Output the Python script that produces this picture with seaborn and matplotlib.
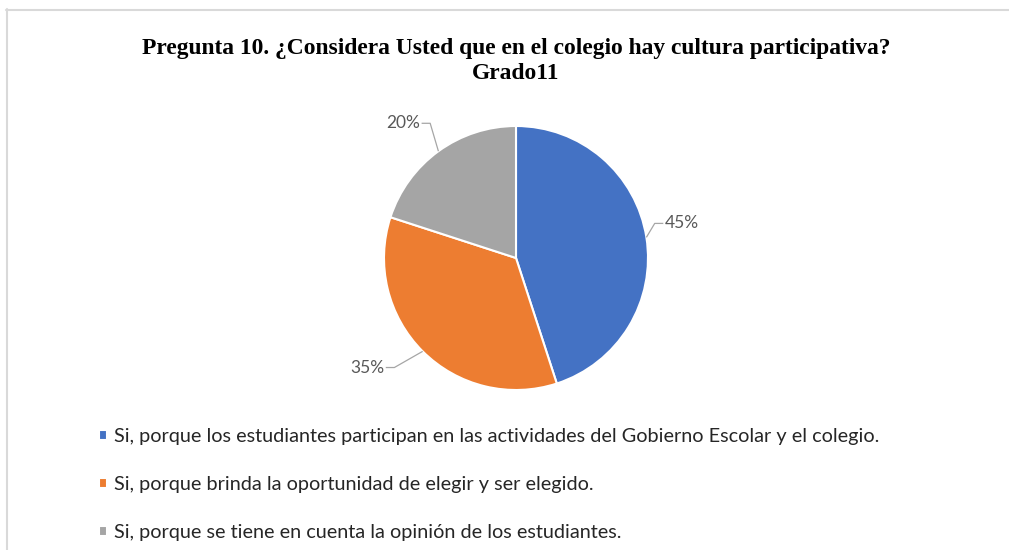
import numpy as np
import matplotlib
matplotlib.use("Agg")
import matplotlib.pyplot as plt
from matplotlib.lines import Line2D
import seaborn as sns

# ---- data ----
categories = [
    "Si, porque los estudiantes participan en las actividades del Gobierno Escolar y el colegio.",
    "Si, porque brinda la oportunidad de elegir y ser elegido.",
    "Si, porque se tiene en cuenta la opinión de los estudiantes.",
]
values = [45, 35, 20]
colors = ["#4472C4", "#ED7D31", "#A5A5A5"]
title = "Pregunta 10. ¿Considera Usted que en el colegio hay cultura participativa?\nGrado11"

sns.set_theme(style="white")
plt.rcParams["font.family"] = ["Lato", "DejaVu Sans"]

W, H = 1009, 550
fig = plt.figure(figsize=(W / 100, H / 100), dpi=100)
fig.patch.set_facecolor("white")

# pie axes: center (516, 258) px, radius 132 px
R = 132
cx, cy = 516, 258
half = 1.5 * R
ax = fig.add_axes([(cx - half) / W, (H - cy - half) / H, 2 * half / W, 2 * half / H])
wedges, _ = ax.pie(values, colors=colors, startangle=90, counterclock=False,
                   wedgeprops=dict(edgecolor="white", linewidth=1.5))
ax.set_xlim(-1.5, 1.5)
ax.set_ylim(-1.5, 1.5)
ax.set_aspect("equal")
ax.axis("off")

# leader lines and labels (elbow radius, angle offset in degrees)
label_style = [(1.083, 5.0), (1.24, -3.0), (1.21, -3.5)]
for w, v, (rr, dang) in zip(wedges, values, label_style):
    mid = np.deg2rad((w.theta1 + w.theta2) / 2)
    ex, ey = np.cos(mid), np.sin(mid)
    a2 = mid + np.deg2rad(dang)
    bx, by = rr * np.cos(a2), rr * np.sin(a2)
    side = 1 if bx > 0 else -1
    tx = bx + side * 0.065
    ax.plot([ex, bx, tx], [ey, by, by], color="#A6A6A6", lw=0.9, solid_capstyle="butt")
    ax.text(tx + side * 0.01, by, f"{v}%", ha="left" if side > 0 else "right",
            va="center", fontsize=12.5, color="#595959")

# title
fig.text(cx / W, 1 - 61 / H, title, ha="center", va="center", fontsize=16.9,
         fontweight="bold", family=["Liberation Serif", "DejaVu Serif"],
         color="black", linespacing=1.2)

# legend
leg = fig.legend(wedges, categories, loc="upper left",
                 bbox_to_anchor=(99 / W, 1 - 428 / H), frameon=False,
                 fontsize=14.35, handlelength=0.38, handleheight=0.38,
                 handletextpad=0.36, labelspacing=1.55, borderpad=0,
                 borderaxespad=0)
for t in leg.get_texts():
    t.set_color("#262626")

# chart border (top and left visible)
fig.add_artist(Line2D([6 / W, 1.0], [1 - 9.5 / H, 1 - 9.5 / H], transform=fig.transFigure,
                      color="#D9D9D9", lw=1.5))
fig.add_artist(Line2D([6.5 / W, 6.5 / W], [1 - 9 / H, 0], transform=fig.transFigure,
                      color="#D9D9D9", lw=1.5))

fig.savefig("out.png", dpi=100, facecolor="white")
